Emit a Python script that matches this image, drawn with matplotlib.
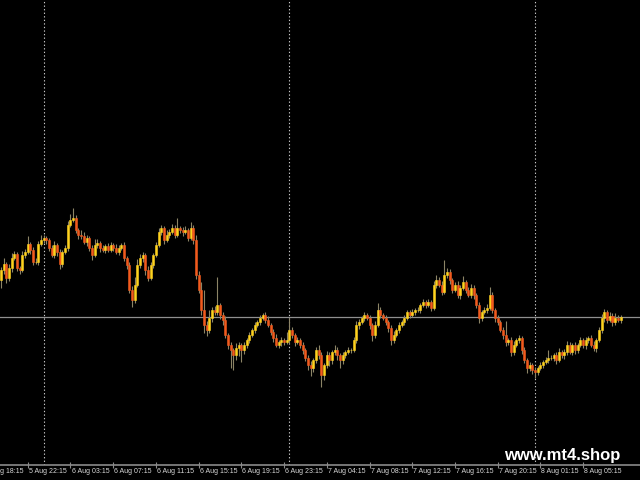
import matplotlib
matplotlib.use('Agg')
import matplotlib.pyplot as plt
import numpy as np

# M15 closes (one per bar, left to right)
closes = [
    1.1730, 1.1736, 1.1722, 1.1732, 1.1742, 1.1746, 1.1732, 1.1730, 1.1745, 1.1748,
    1.1756, 1.1750, 1.1738, 1.1738, 1.1756, 1.1760, 1.1762, 1.1760, 1.1752, 1.1745,
    1.1755, 1.1748, 1.1736, 1.1748, 1.1752, 1.1775, 1.1780, 1.1782, 1.1770, 1.1765,
    1.1764, 1.1758, 1.1762, 1.1752, 1.1745, 1.1755, 1.1757, 1.1752, 1.1750, 1.1754,
    1.1750,
    1.1755, 1.1752, 1.1748, 1.1752, 1.1755, 1.1742, 1.1735, 1.1710, 1.1700, 1.1715,
    1.1735, 1.1742, 1.1745, 1.1730, 1.1722, 1.1735, 1.1745, 1.1755, 1.1768, 1.1772,
    1.1760, 1.1765, 1.1768, 1.1772, 1.1765, 1.1772, 1.1770, 1.1768, 1.1770, 1.1762,
    1.1772, 1.1760,
    1.1725, 1.1710, 1.1690, 1.1675, 1.1670, 1.1682, 1.1690, 1.1688, 1.1695, 1.1685,
    1.1680, 1.1665, 1.1655, 1.1650, 1.1645, 1.1652, 1.1655, 1.1650, 1.1655, 1.1660,
    1.1665, 1.1670, 1.1675, 1.1678, 1.1682, 1.1685, 1.1680, 1.1675, 1.1668, 1.1662,
    1.1655, 1.1658, 1.1660, 1.1658, 1.1660, 1.1670, 1.1665, 1.1658, 1.1660, 1.1655,
    1.1650, 1.1642, 1.1635, 1.1632, 1.1640, 1.1650, 1.1645, 1.1625, 1.1635, 1.1645,
    1.1640, 1.1648, 1.1650, 1.1645, 1.1640, 1.1645, 1.1648, 1.1650, 1.1650, 1.1660,
    1.1675, 1.1678, 1.1682, 1.1685, 1.1682, 1.1675, 1.1665, 1.1675, 1.1690, 1.1685,
    1.1682, 1.1678, 1.1672, 1.1660, 1.1665, 1.1670, 1.1675, 1.1678, 1.1682, 1.1688,
    1.1685, 1.1688, 1.1690, 1.1690, 1.1695, 1.1698, 1.1695, 1.1698, 1.1692, 1.1715,
    1.1720, 1.1715, 1.1708, 1.1725, 1.1728, 1.1720, 1.1710, 1.1715, 1.1705, 1.1712,
    1.1718, 1.1710, 1.1705, 1.1712, 1.1705, 1.1695, 1.1682, 1.1688, 1.1690, 1.1692,
    1.1705, 1.1690, 1.1682, 1.1678, 1.1670, 1.1665,
    1.1658, 1.1660, 1.1648, 1.1655, 1.1660, 1.1662, 1.1650, 1.1640, 1.1632, 1.1635,
    1.1630, 1.1628, 1.1632, 1.1635, 1.1638, 1.1640, 1.1642, 1.1642, 1.1645, 1.1640,
    1.1648, 1.1645, 1.1648, 1.1655, 1.1648, 1.1655, 1.1650, 1.1655, 1.1660, 1.1655,
    1.1660, 1.1662, 1.1655, 1.1652, 1.1660, 1.1670, 1.1682, 1.1688, 1.1680, 1.1684,
    1.1678, 1.1682, 1.1680, 1.1683,
]
first_open = 1.1720

# wick lengths in pips above / below the body
upper_wick = [
    3, 6, 2, 4, 5, 3, 2, 2, 4, 3, 8, 2, 3, 4, 3, 5, 3, 2, 2, 3,
    4, 2, 3, 2, 3, 4, 6, 10, 3, 2, 5, 4, 3, 2, 3, 6, 4, 2, 3, 2, 3,
    3, 2, 4, 3, 2, 3, 2, 3, 4, 8, 6, 4, 3, 2, 4, 3, 2, 3, 4, 3,
    2, 5, 3, 4, 3, 10, 2, 3, 4, 2, 6, 3,
    5, 4, 8, 20, 4, 8, 3, 4, 28, 2, 3, 4, 2, 3, 2, 5, 3, 2, 3, 2,
    3, 2, 3, 2, 3, 2, 3, 4, 2, 3, 4, 2, 3, 2, 8, 12, 3, 2, 3, 2,
    3, 2, 3, 4, 2, 3, 5, 3, 2, 4, 3, 2, 5, 3, 2, 3, 2, 3, 2, 3,
    4, 3, 2, 3, 2, 3, 2, 4, 7, 3, 2, 3, 2, 3, 4, 2, 3, 2, 3, 2,
    2, 3, 2, 3, 2, 3, 2, 3, 2, 4, 5, 3, 4, 15, 4, 3, 2, 3, 4, 3,
    6, 2, 3, 4, 3, 2, 3, 2, 3, 4, 8, 3, 2, 3, 2, 3,
    14, 2, 3, 4, 2, 3, 2, 3, 2, 3, 2, 3, 2, 3, 2, 3, 8, 3, 2, 3,
    4, 2, 3, 4, 3, 2, 3, 2, 3, 2, 3, 2, 3, 4, 2, 3, 4, 3, 2, 4,
    3, 5, 3, 2,
]
lower_wick = [
    8, 4, 5, 3, 4, 2, 3, 4, 2, 3, 2, 4, 3, 2, 3, 2, 3, 4, 3, 2,
    3, 4, 5, 3, 2, 3, 2, 2, 3, 4, 3, 2, 4, 3, 5, 2, 3, 4, 2, 3, 2,
    2, 3, 2, 3, 2, 3, 4, 3, 7, 3, 2, 3, 4, 5, 3, 2, 3, 2, 2, 3,
    4, 2, 3, 2, 3, 2, 3, 4, 2, 3, 2, 4,
    4, 3, 5, 8, 6, 3, 4, 3, 3, 4, 5, 3, 4, 18, 15, 5, 8, 12, 4, 3,
    3, 2, 3, 2, 3, 2, 3, 2, 3, 4, 2, 3, 4, 3, 2, 3, 3, 4, 2, 3,
    4, 3, 5, 8, 4, 3, 4, 12, 5, 3, 6, 4, 3, 5, 8, 4, 3, 2, 3, 2,
    3, 4, 2, 3, 2, 4, 6, 3, 2, 3, 2, 3, 4, 5, 3, 2, 3, 2, 3, 2,
    3, 2, 3, 2, 3, 2, 3, 2, 3, 2, 3, 2, 3, 2, 3, 4, 3, 2, 3, 4,
    2, 3, 2, 3, 4, 3, 5, 3, 2, 3, 2, 3, 4, 3, 2, 4,
    4, 3, 4, 3, 2, 3, 4, 3, 5, 3, 4, 6, 3, 2, 3, 2, 3, 2, 3, 4,
    2, 3, 4, 3, 2, 3, 4, 3, 2, 3, 4, 3, 2, 3, 4, 2, 3, 4, 3, 2,
    4, 3, 2, 3,
]

tick_bars = [-6, 10, 26, 42, 58, 74, 90, 106, 122, 138, 154, 170, 186, 202, 218]
tick_labels = ['5 Aug 18:15', '5 Aug 22:15', '6 Aug 03:15', '6 Aug 07:15', '6 Aug 11:15',
               '6 Aug 15:15', '6 Aug 19:15', '6 Aug 23:15', '7 Aug 04:15', '7 Aug 08:15',
               '7 Aug 12:15', '7 Aug 16:15', '7 Aug 20:15', '8 Aug 01:15', '8 Aug 05:15']
day_start_bars = [16, 108, 200]

pip = 0.0001
close = np.array(closes)
opens = np.concatenate([[first_open], close[:-1]])
highs = np.maximum(opens, close) + np.array(upper_wick) * pip
lows = np.minimum(opens, close) - np.array(lower_wick) * pip
x = np.arange(len(close))

bull = '#FFD21E'
bear = '#F25A1D'
colors = [bull if c >= o else bear for o, c in zip(opens, close)]

fig = plt.figure(figsize=(6.4, 4.8), dpi=100, facecolor='black')
ax = fig.add_axes([0, 15.5 / 480, 1, 464.5 / 480])
ax.set_facecolor('black')

ax.vlines(x, lows, highs, color='#8c8466', lw=0.8, zorder=2)
ax.bar(x, np.abs(close - opens), bottom=np.minimum(opens, close), width=0.75,
       color=colors, edgecolor=colors, linewidth=0.4, zorder=3)

# current price line and day separators
ax.axhline(close[-1], color='#8f8f8f', lw=0.9, zorder=1)
for d in day_start_bars:
    ax.axvline(d, color='#c8c8c8', lw=0.8, ls=(0, (1.2, 2)), zorder=1)

ax.set_xlim(-0.4, 239.3)
ax.set_ylim(1.15355, 1.2)

for s in ['top', 'left', 'right']:
    ax.spines[s].set_visible(False)
ax.spines['bottom'].set_color('#8a8a8a')
ax.spines['bottom'].set_linewidth(1.2)
ax.set_yticks([])
ax.set_xticks(tick_bars[1:])
ax.set_xticklabels([])
ax.tick_params(axis='x', direction='inout', length=4, color='#8a8a8a', width=0.8)

# the first label is cut by the left edge in the original as well
for b, lab in zip(tick_bars, tick_labels):
    ax.text(b + 0.4, -0.007, lab, transform=ax.get_xaxis_transform(),
            ha='left', va='top', fontsize=5, color='#d8d8d8',
            family='Liberation Sans', clip_on=False)

fig.text(0.878, 0.052, 'www.mt4.shop', ha='center', va='center', color='white',
         fontsize=12, fontweight='bold', family='Liberation Sans')

plt.savefig('out.png', dpi=100, facecolor='black')
